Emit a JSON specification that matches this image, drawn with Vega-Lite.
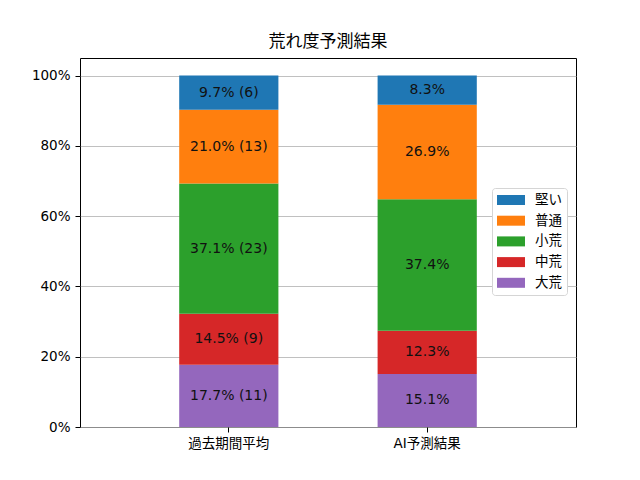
{
  "$schema": "https://vega.github.io/schema/vega-lite/v6.json",
  "width": 496,
  "height": 369,
  "autosize": {"type": "none"},
  "padding": {"left": 80, "top": 58, "right": 64, "bottom": 53},
  "background": "white",
  "title": {
    "text": "荒れ度予測結果",
    "fontSize": 17,
    "fontWeight": "normal",
    "font": "DejaVu Sans, Noto Sans CJK JP",
    "color": "black",
    "anchor": "middle",
    "offset": 7
  },
  "data": {
    "values": [
      {"period": "過去期間平均", "category": "大荒", "rank": 1, "pct": 17.7, "label": "17.7% (11)"},
      {"period": "過去期間平均", "category": "中荒", "rank": 2, "pct": 14.5, "label": "14.5% (9)"},
      {"period": "過去期間平均", "category": "小荒", "rank": 3, "pct": 37.1, "label": "37.1% (23)"},
      {"period": "過去期間平均", "category": "普通", "rank": 4, "pct": 21.0, "label": "21.0% (13)"},
      {"period": "過去期間平均", "category": "堅い", "rank": 5, "pct": 9.7, "label": "9.7% (6)"},
      {"period": "AI予測結果", "category": "大荒", "rank": 1, "pct": 15.1, "label": "15.1%"},
      {"period": "AI予測結果", "category": "中荒", "rank": 2, "pct": 12.3, "label": "12.3%"},
      {"period": "AI予測結果", "category": "小荒", "rank": 3, "pct": 37.4, "label": "37.4%"},
      {"period": "AI予測結果", "category": "普通", "rank": 4, "pct": 26.9, "label": "26.9%"},
      {"period": "AI予測結果", "category": "堅い", "rank": 5, "pct": 8.3, "label": "8.3%"}
    ]
  },
  "encoding": {
    "x": {
      "field": "period",
      "type": "nominal",
      "sort": ["過去期間平均", "AI予測結果"],
      "title": null,
      "scale": {"paddingInner": 0.5, "paddingOuter": 0.5},
      "axis": {
        "labelAngle": 0,
        "domain": false,
        "grid": false,
        "tickColor": "black",
        "tickSize": 5,
        "tickWidth": 1,
        "labelPadding": 4,
        "labelFontSize": 13.5,
        "labelColor": "black",
        "labelFont": "DejaVu Sans, Noto Sans CJK JP"
      }
    }
  },
  "layer": [
    {
      "mark": {"type": "bar"},
      "encoding": {
        "y": {
          "field": "pct",
          "type": "quantitative",
          "stack": "zero",
          "title": null,
          "scale": {"domain": [0, 105], "nice": false},
          "axis": {
            "values": [0, 20, 40, 60, 80, 100],
            "labelExpr": "datum.value + '%'",
            "domain": false,
            "grid": true,
            "gridColor": "#b0b0b0",
            "gridWidth": 0.8,
            "tickColor": "black",
            "tickSize": 5,
            "tickWidth": 1,
            "labelPadding": 5,
            "labelFontSize": 13.5,
            "labelColor": "black",
            "labelFont": "DejaVu Sans"
          }
        },
        "color": {
          "field": "category",
          "type": "nominal",
          "title": null,
          "scale": {
            "domain": ["堅い", "普通", "小荒", "中荒", "大荒"],
            "range": ["#1f77b4", "#ff7f0e", "#2ca02c", "#d62728", "#9467bd"]
          },
          "legend": {
            "orient": "none",
            "legendX": 412,
            "legendY": 130,
            "symbolType": "M-1,-0.714H3V0.714H-1Z",
            "symbolSize": 196,
            "symbolStrokeWidth": 0,
            "symbolOpacity": 1,
            "labelFontSize": 13.5,
            "labelColor": "black",
            "labelFont": "DejaVu Sans, Noto Sans CJK JP",
            "labelOffset": 24,
            "rowPadding": 6.7,
            "padding": 5,
            "strokeColor": "#d5d5d5",
            "fillColor": "white",
            "cornerRadius": 3
          }
        },
        "order": {"field": "rank", "type": "quantitative"}
      }
    },
    {
      "transform": [
        {"stack": "pct", "groupby": ["period"], "sort": [{"field": "rank"}], "as": ["y0", "y1"]},
        {"calculate": "(datum.y0 + datum.y1) / 2", "as": "mid"}
      ],
      "mark": {"type": "text", "fontSize": 14, "font": "DejaVu Sans", "color": "#111111", "baseline": "middle"},
      "encoding": {
        "y": {"field": "mid", "type": "quantitative", "title": null},
        "text": {"field": "label"}
      }
    }
  ],
  "config": {
    "view": {"stroke": "black", "strokeWidth": 1}
  }
}
